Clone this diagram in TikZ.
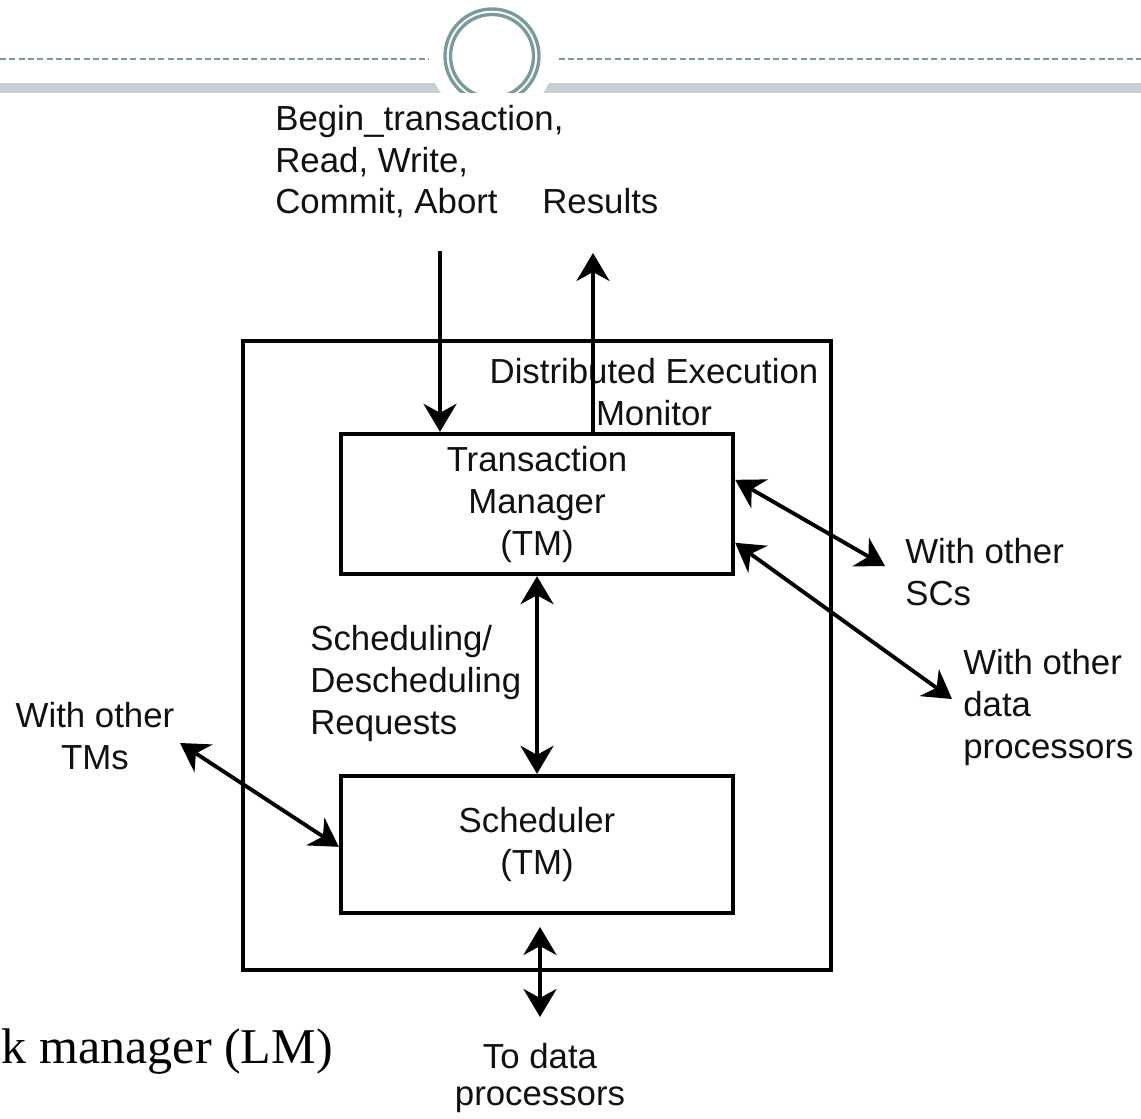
\documentclass[tikz,border=0pt]{standalone}
\usepackage{fontspec}
\setmainfont{Liberation Sans}
\newfontfamily\slidefont{Liberation Serif}
\usetikzlibrary{arrows.meta,calc}
\definecolor{ornament}{HTML}{7A9A9B}
\definecolor{bandgrey}{HTML}{C5CFD4}
\definecolor{ink}{HTML}{111111}
\begin{document}
\begin{tikzpicture}[x=0.02cm,y=-0.02cm,
  lbl/.style={inner sep=0pt, text=ink, font=\fontsize{19.8}{23.9}\selectfont, align=left},
  box/.style={draw, line width=2.5pt, inner sep=0pt, align=center, text=ink,
    font=\fontsize{19.8}{23.9}\selectfont},
  tip/.tip={Stealth[length=0.56cm,width=0.66cm,inset=0.18cm]},
  link/.style={line width=2.2pt, -tip},
  both/.style={line width=2.2pt, tip-tip},
]
\useasboundingbox (0,0) rectangle (1141,1118);
\clip (0,0) rectangle (1141,1118);

% slide header ornament
\begin{scope}
  \clip (0,0) rectangle (1141,93);
  \draw[ornament, line width=0.75pt, dash pattern=on 3.4pt off 1.9pt] (0,59) -- (1141,59);
  \fill[bandgrey] (0,83) rectangle (1141,93);
  \fill[white] (492,56) circle[radius=63];
  \draw[ornament, line width=1.9pt] (492,56) circle[radius=47];
  \draw[ornament, line width=1.9pt] (492,56) circle[radius=41.5];
\end{scope}

% boxes
\node[box, minimum width=11.76cm, minimum height=12.58cm] (dem) at (537,655.5) {};
\node[box, minimum width=7.84cm, minimum height=2.8cm] (tm) at (537,504)
  {Transaction\\Manager\\(TM)};
\node[box, minimum width=7.84cm, minimum height=2.74cm] (sch) at (537,844.5)
  {Scheduler\\(TM)};

% labels (base anchor = baseline of the last line)
\node[lbl, align=center, anchor=base] (demlbl) at (654,425) {Distributed Execution\\Monitor};
\node[lbl, anchor=base west] (cmds) at (275,214) {Begin\_transaction,\\Read, Write,\\Commit, Abort};
\node[lbl, anchor=base west] (results) at (542,214) {Results};
\node[lbl, anchor=base west] (schreq) at (310,734) {Scheduling/\\Descheduling\\Requests};
\node[lbl, anchor=base west] (scs) at (905,605) {With other\\SCs};
\node[lbl, anchor=base west] (dps) at (963,758) {With other\\data\\processors};
\node[lbl, align=center, anchor=base] (tms) at (95,769) {With other\\TMs};
\node[lbl, align=center, anchor=base, font=\fontsize{19.8}{20.5}\selectfont] (todp) at (540,1105)
  {To data\\processors};
\node[inner sep=0pt, anchor=base east, font=\slidefont\fontsize{28.5}{34}\selectfont] (lm)
  at (333,1063) {k manager (LM)};

% connectors
\coordinate (inTop) at (440,251);
\coordinate (outTop) at (593,253);
\draw[link] (inTop) -- (inTop |- tm.north);
\draw[link] (outTop |- tm.north) -- (outTop);
\draw[both] (tm.south) -- (sch.north);

\coordinate (scA) at ($(tm.north east)+(0,48)$);
\coordinate (scB) at (885,566);
\draw[both] (scA) -- (scB);

\coordinate (dpA) at ($(tm.north east)+(0,111)$);
\coordinate (dpB) at (952,699);
\draw[both] (dpA) -- (dpB);

\coordinate (tmsA) at ($(sch.north west)+(0,73)$);
\coordinate (tmsB) at (180,743);
\draw[both] (tmsB) -- (tmsA);

\coordinate (lowA) at (540,927);
\coordinate (lowB) at (540,1017);
\draw[both] (lowA) -- (lowB);
\end{tikzpicture}
\end{document}
